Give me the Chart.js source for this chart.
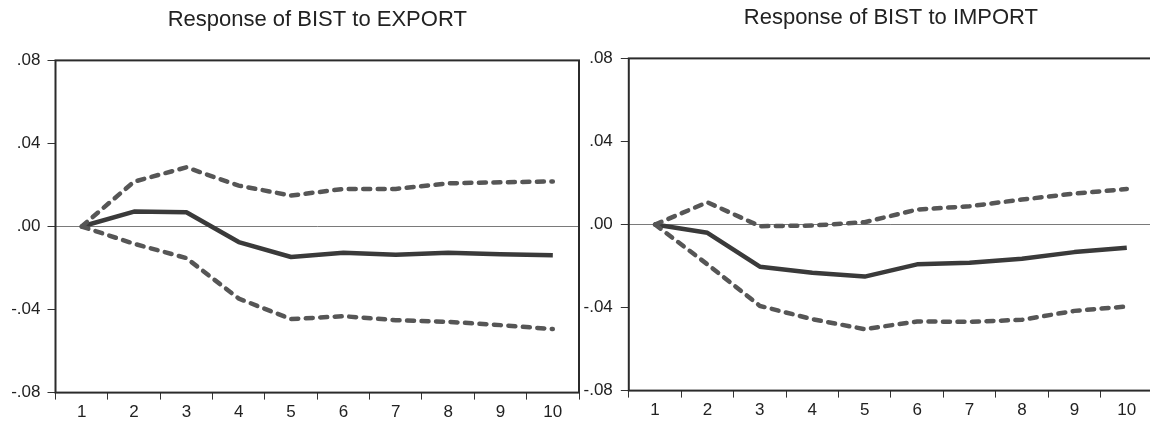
<!DOCTYPE html>
<html>
<head>
<meta charset="utf-8">
<script src="https://cdn.jsdelivr.net/npm/chart.js@4.4.1/dist/chart.umd.min.js"></script>
<style>
  html, body { margin: 0; padding: 0; background: #fff; overflow: hidden; width: 1150px; height: 426px; }
  .box { position: absolute; }
  #b1 { left: 0px; top: 0px; width: 581px; height: 426px; }
  #b2 { left: 580px; top: -2.4px; width: 575px; height: 426px; }
</style>
</head>
<body>
<div class="box" id="b1"><canvas id="c1"></canvas></div>
<div class="box" id="b2"><canvas id="c2"></canvas></div>
<script>
// ---- data ----
const periods = ['1','2','3','4','5','6','7','8','9','10'];
const yTickLabels = ['-.08','-.04','.00','.04','.08'];

const titleExport = 'Response of BIST to EXPORT';
const exportResponse = [0, 0.0072, 0.0069, -0.0075, -0.0147, -0.0126, -0.0136, -0.0126, -0.0134, -0.0139];
const exportUpper    = [0, 0.0216, 0.0285, 0.0197, 0.0149, 0.0181, 0.0181, 0.0208, 0.0213, 0.0217];
const exportLower    = [0, -0.0083, -0.0152, -0.0347, -0.0446, -0.0432, -0.0451, -0.0459, -0.0475, -0.0494];

const titleImport = 'Response of BIST to IMPORT';
const importResponse = [0, -0.0040, -0.0203, -0.0232, -0.0251, -0.0192, -0.0184, -0.0165, -0.0133, -0.0112];
const importUpper    = [0, 0.0107, -0.0008, -0.0005, 0.0011, 0.0072, 0.0088, 0.0120, 0.0149, 0.0171];
const importLower    = [0, -0.0192, -0.0392, -0.0456, -0.0504, -0.0467, -0.0469, -0.0459, -0.0416, -0.0395];

// ---- drawing ----
const FONT = "'Liberation Sans', Arial, sans-serif";

const framePlugin = {
  id: 'frame',
  beforeDatasetsDraw(chart) {
    const { ctx, chartArea: a, scales } = chart;
    const y0 = scales.y.getPixelForValue(0);
    ctx.save();
    ctx.strokeStyle = '#7a7a7a';
    ctx.lineWidth = 1;
    ctx.beginPath();
    ctx.moveTo(a.left, y0);
    ctx.lineTo(a.right, y0);
    ctx.stroke();
    ctx.restore();
  },
  afterDraw(chart) {
    const { ctx, chartArea: a } = chart;
    ctx.save();
    ctx.strokeStyle = '#2b2b2b';
    ctx.lineWidth = 2;
    ctx.strokeRect(a.left, a.top, a.right - a.left, a.bottom - a.top);
    ctx.restore();
  }
};

function makeChart(id, title, resp, upper, lower, yWidth, yPad) {
  const dashed = (data) => ({
    data, borderColor: '#565656', borderWidth: 4.5, borderDash: [7, 7.5], borderCapStyle: 'round',
    pointRadius: 0, tension: 0, fill: false
  });
  return new Chart(document.getElementById(id), {
    type: 'line',
    data: {
      labels: periods,
      datasets: [
        dashed(upper),
        dashed(lower),
        { data: resp, borderColor: '#3a3a3a', borderWidth: 4.5, pointRadius: 0, tension: 0, fill: false, borderJoinStyle: 'round' }
      ]
    },
    options: {
      responsive: true,
      maintainAspectRatio: false,
      animation: false,
      layout: { padding: { left: 0, right: 2, top: 0, bottom: 0 } },
      plugins: {
        legend: { display: false },
        tooltip: { enabled: false },
        title: {
          display: true, text: title, color: '#222', fullSize: false,
          font: { family: FONT, size: 22, weight: 'normal' },
          padding: { top: 7, bottom: 27 }
        }
      },
      scales: {
        x: {
          offset: true,
          grid: { offset: true, drawOnChartArea: false, drawTicks: true, tickLength: 7, color: '#333', lineWidth: 1 },
          border: { display: false },
          ticks: { color: '#222', font: { family: FONT, size: 17 }, padding: 3, maxRotation: 0, autoSkip: false }
        },
        y: {
          min: -0.08, max: 0.08,
          afterFit(scale) { scale.width = yWidth; },
          grid: { drawOnChartArea: false, drawTicks: true, tickLength: 8, color: '#333', lineWidth: 1 },
          border: { display: false },
          ticks: {
            stepSize: 0.04, color: '#222', font: { family: FONT, size: 17 }, padding: yPad,
            callback: (v, i) => yTickLabels[i]
          }
        }
      }
    },
    plugins: [framePlugin]
  });
}

makeChart('c1', titleExport, exportResponse, exportUpper, exportLower, 55.5, 7);
makeChart('c2', titleImport, importResponse, importUpper, importLower, 48.8, 8);
</script>
</body>
</html>
